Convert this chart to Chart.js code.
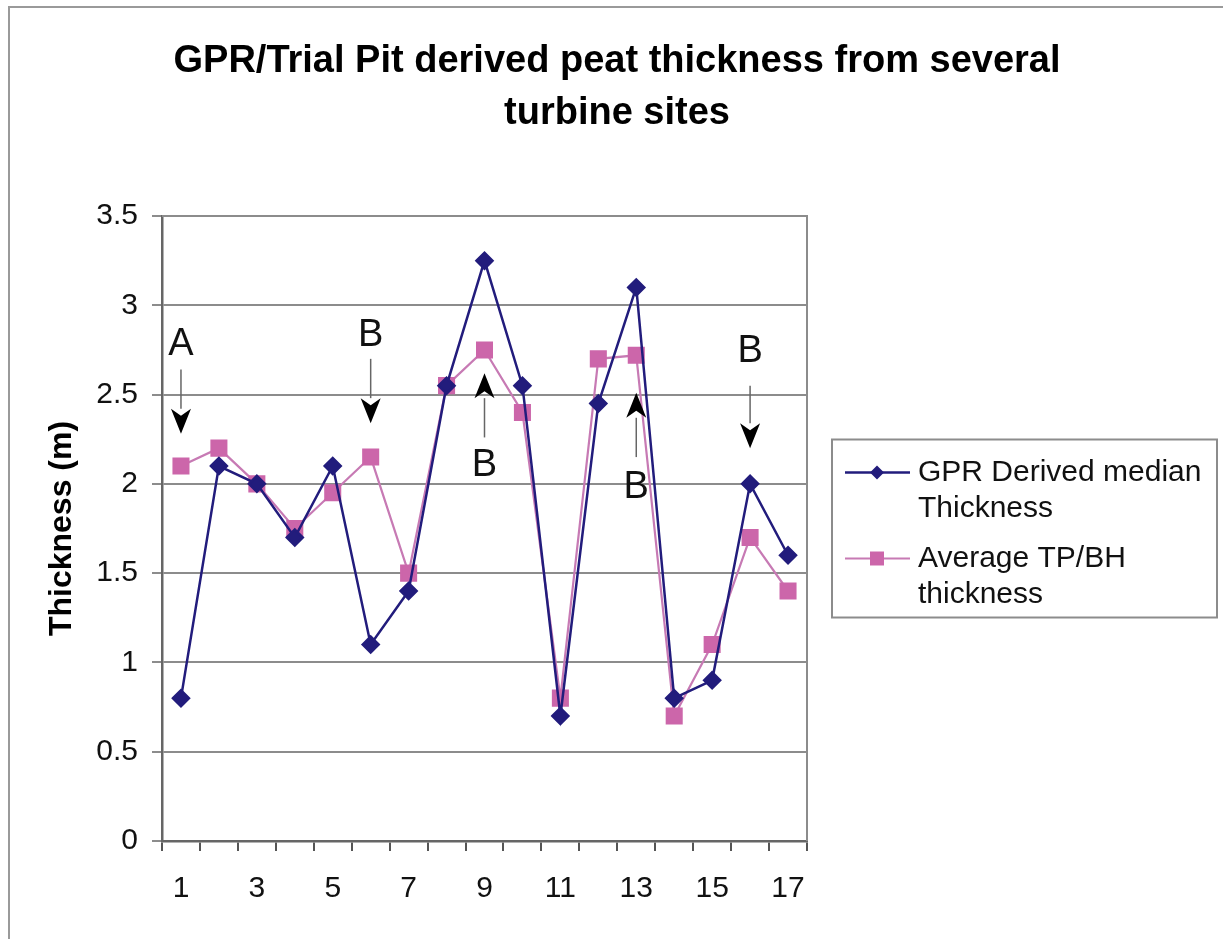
<!DOCTYPE html>
<html>
<head>
<meta charset="utf-8">
<script src="https://cdn.jsdelivr.net/npm/chart.js@4.4.0/dist/chart.umd.min.js"></script>
<style>
  html, body { margin: 0; padding: 0; background: #fff; }
  #wrap { width: 1223px; height: 939px; position: relative; }
</style>
</head>
<body>
<div id="wrap"><canvas id="myChart" width="1223" height="939"></canvas></div>
<script>
// site numbers along the x axis
const sites = [1, 2, 3, 4, 5, 6, 7, 8, 9, 10, 11, 12, 13, 14, 15, 16, 17];
// GPR derived median thickness (m)
const gprThickness = [0.8, 2.1, 2.0, 1.7, 2.1, 1.1, 1.4, 2.55, 3.25, 2.55, 0.7, 2.45, 3.1, 0.8, 0.9, 2.0, 1.6];
// average trial pit / borehole thickness (m)
const pitThickness = [2.1, 2.2, 2.0, 1.75, 1.95, 2.15, 1.5, 2.55, 2.75, 2.4, 0.8, 2.7, 2.72, 0.7, 1.1, 1.7, 1.4];
const seriesNames = [['GPR Derived median', 'Thickness'], ['Average TP/BH', 'thickness']];
const titleLines = ['GPR/Trial Pit derived peat thickness from several', 'turbine sites'];
const yTicks = [0, 0.5, 1, 1.5, 2, 2.5, 3, 3.5];
// A / B markers: site, letter, arrow direction, text / arrow values in metres
const markLetters = ['A', 'B', 'B', 'B', 'B'];
const markSites = [1, 6, 9, 13, 16];
const markDir = ['down', 'down', 'up', 'up', 'down'];
const markText = [2.78, 2.83, 2.10, 1.98, 2.74];
const markTail = [2.64, 2.70, 2.26, 2.15, 2.55];
const markTip = [2.28, 2.34, 2.62, 2.51, 2.20];

const navy = '#221c7c';
const pink = '#cc66aa';
const FONT = "'Liberation Sans', Arial, sans-serif";

const frame = {
  id: 'frame',
  beforeDraw(chart) {
    const ctx = chart.ctx;
    ctx.save();
    ctx.fillStyle = '#fff';
    ctx.fillRect(0, 0, chart.width, chart.height);
    ctx.strokeStyle = '#9a9a9a';
    ctx.lineWidth = 2;
    ctx.beginPath();
    ctx.moveTo(9, chart.height);
    ctx.lineTo(9, 7);
    ctx.lineTo(chart.width, 7);
    ctx.stroke();
    // title across the whole picture
    ctx.fillStyle = '#000';
    ctx.font = 'bold 38px ' + FONT;
    ctx.textAlign = 'center';
    ctx.textBaseline = 'alphabetic';
    titleLines.forEach((t, i) => {
      ctx.fillText(t, 617, 72 + i * 52);
    });
    ctx.restore();
  },
  beforeDatasetsDraw(chart) {
    const {ctx, chartArea: a} = chart;
    ctx.save();
    ctx.strokeStyle = '#8c8c8c';
    ctx.lineWidth = 2;
    ctx.beginPath();
    ctx.moveTo(a.left, a.top);
    ctx.lineTo(a.right, a.top);
    ctx.lineTo(a.right, a.bottom);
    ctx.stroke();
    ctx.restore();
  }
};

const marks = {
  id: 'marks',
  afterDatasetsDraw(chart) {
    const ctx = chart.ctx;
    const xs = chart.scales.x, ys = chart.scales.y;
    ctx.save();
    markLetters.forEach((t, i) => {
      const x = xs.getPixelForValue(markSites[i] - 1);
      const yText = ys.getPixelForValue(markText[i]);
      const yTail = ys.getPixelForValue(markTail[i]);
      const yTip = ys.getPixelForValue(markTip[i]);
      ctx.fillStyle = '#111';
      ctx.font = '38px ' + FONT;
      ctx.textAlign = 'center';
      ctx.textBaseline = 'middle';
      ctx.fillText(t, x, yText);
      const head = 25;
      const s = markDir[i] === 'down' ? 1 : -1;
      ctx.strokeStyle = '#666';
      ctx.lineWidth = 1.5;
      ctx.beginPath();
      ctx.moveTo(x, yTail);
      ctx.lineTo(x, yTip - s * head);
      ctx.stroke();
      ctx.fillStyle = '#000';
      ctx.beginPath();
      ctx.moveTo(x, yTip);
      ctx.lineTo(x - 10, yTip - s * head);
      ctx.lineTo(x, yTip - s * (head - 7));
      ctx.lineTo(x + 10, yTip - s * head);
      ctx.closePath();
      ctx.fill();
    });
    ctx.restore();
  }
};

const sideLegend = {
  id: 'sideLegend',
  afterDraw(chart) {
    const {ctx, chartArea: a} = chart;
    const left = a.right + 25, w = 385, h = 178;
    const top = (a.top + a.bottom) / 2 - h / 2;
    ctx.save();
    ctx.strokeStyle = '#8c8c8c';
    ctx.lineWidth = 2;
    ctx.strokeRect(left, top, w, h);
    ctx.font = '30px ' + FONT;
    ctx.textAlign = 'left';
    ctx.textBaseline = 'middle';
    let y = top + 33;
    chart.data.datasets.forEach((ds, i) => {
      ctx.strokeStyle = ds.borderColor;
      ctx.lineWidth = ds.borderWidth;
      ctx.beginPath();
      ctx.moveTo(left + 13, y);
      ctx.lineTo(left + 78, y);
      ctx.stroke();
      const cx = left + 45;
      ctx.fillStyle = ds.pointBackgroundColor;
      ctx.beginPath();
      if (ds.pointStyle === 'rectRot') {
        const r = 7;
        ctx.moveTo(cx, y - r); ctx.lineTo(cx + r, y); ctx.lineTo(cx, y + r); ctx.lineTo(cx - r, y);
        ctx.closePath();
      } else {
        ctx.rect(cx - 7, y - 7, 14, 14);
      }
      ctx.fill();
      ctx.fillStyle = '#111';
      seriesNames[i].forEach((line, j) => {
        ctx.fillText(line, left + 86, y + j * 36);
      });
      y += 36 * seriesNames[i].length + 14;
    });
    ctx.restore();
  }
};

const ctx = document.getElementById('myChart');
new Chart(ctx, {
  type: 'line',
  data: {
    labels: sites,
    datasets: [{
      label: seriesNames[0].join(' '),
      data: gprThickness,
      borderColor: navy,
      backgroundColor: navy,
      pointBackgroundColor: navy,
      pointBorderColor: navy,
      borderWidth: 2.5,
      pointStyle: 'rectRot',
      pointRadius: 8,
      tension: 0
    }, {
      label: seriesNames[1].join(' '),
      data: pitThickness,
      borderColor: '#c77ab4',
      backgroundColor: pink,
      pointBackgroundColor: pink,
      pointBorderColor: pink,
      borderWidth: 2.2,
      pointStyle: 'rect',
      pointRadius: 10.5,
      tension: 0
    }]
  },
  options: {
    responsive: false,
    animation: false,
    layout: { padding: { left: 0, right: 416, top: 216, bottom: 0 } },
    plugins: {
      legend: { display: false },
      tooltip: { enabled: false },
      title: { display: false }
    },
    scales: {
      x: {
        offset: true,
        afterFit(scale) { scale.height = 98; },
        grid: {
          offset: true,
          drawOnChartArea: false,
          tickLength: 10,
          color: '#555',
          lineWidth: 2
        },
        border: { color: '#666', width: 2.5 },
        ticks: {
          autoSkip: false,
          maxRotation: 0,
          padding: 20,
          color: '#111',
          font: { family: FONT, size: 30 },
          callback(v, i) { return i % 2 === 0 ? String(sites[i]) : ''; }
        }
      },
      y: {
        min: 0,
        max: 3.5,
        afterFit(scale) { scale.width = 162; },
        afterBuildTicks(scale) { scale.ticks = yTicks.map(v => ({ value: v })); },
        grid: { color: '#8c8c8c', lineWidth: 2, tickLength: 10 },
        border: { color: '#666', width: 2.5 },
        ticks: {
          padding: 14,
          color: '#111',
          font: { family: FONT, size: 30 },
          callback(v) { return String(v); }
        },
        title: {
          display: true,
          text: 'Thickness (m)',
          color: '#000',
          font: { family: FONT, size: 32, weight: 'bold' },
          padding: { top: 43, bottom: 0 }
        }
      }
    }
  },
  plugins: [frame, marks, sideLegend]
});
</script>
</body>
</html>
